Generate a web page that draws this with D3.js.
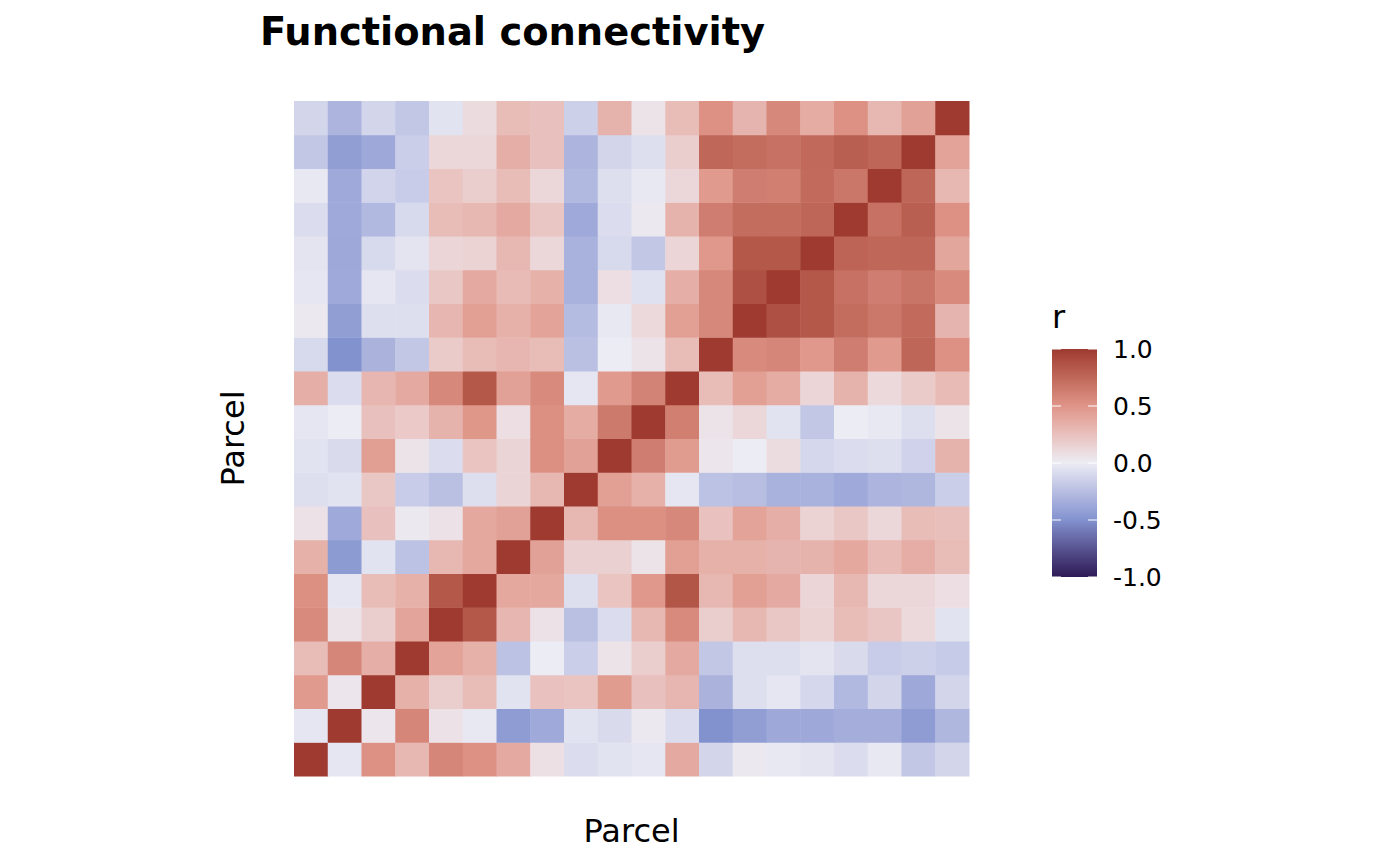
<!DOCTYPE html>
<html>
<head>
<meta charset="utf-8">
<script src="https://cdn.jsdelivr.net/npm/d3@7"></script>
<style>
  body { margin: 0; background: #fff; }
  svg text { font-family: "DejaVu Sans", sans-serif; fill: #000; }
</style>
</head>
<body>
<div id="chart"></div>
<script>
// parcels, 1 .. 20 (parcel 1 is bottom row / left column)
var parcels = d3.range(1, 21);

// correlation matrix, row i = parcel i, column j = parcel j
var r01 = [1, -0.03, 0.52, 0.30, 0.58, 0.52, 0.38, 0.07, -0.08, -0.05, -0.03, 0.38, -0.12, 0.02, -0.02, -0.04, -0.08, -0.02, -0.20, -0.12];
var r02 = [-0.03, 1, 0.04, 0.58, 0.06, -0.02, -0.44, -0.36, -0.05, -0.09, 0.02, -0.08, -0.50, -0.43, -0.37, -0.37, -0.34, -0.34, -0.44, -0.29];
var r03 = [0.47, 0.04, 1, 0.34, 0.17, 0.27, -0.05, 0.24, 0.23, 0.46, 0.25, 0.31, -0.31, -0.07, -0.03, -0.11, -0.28, -0.12, -0.37, -0.12];
var r04 = [0.27, 0.58, 0.35, 1, 0.42, 0.34, -0.23, 0.00, -0.16, 0.05, 0.17, 0.38, -0.20, -0.07, -0.07, -0.04, -0.09, -0.17, -0.15, -0.18];
var r05 = [0.56, 0.05, 0.17, 0.41, 1, 0.84, 0.31, 0.06, -0.24, -0.08, 0.30, 0.56, 0.17, 0.30, 0.21, 0.15, 0.27, 0.22, 0.11, -0.05];
var r06 = [0.53, -0.03, 0.27, 0.34, 0.84, 1, 0.39, 0.39, -0.07, 0.23, 0.48, 0.85, 0.30, 0.44, 0.38, 0.13, 0.30, 0.12, 0.12, 0.08];
var r07 = [0.34, -0.45, -0.05, -0.23, 0.30, 0.39, 1, 0.43, 0.16, 0.16, 0.05, 0.44, 0.34, 0.34, 0.32, 0.33, 0.39, 0.28, 0.36, 0.27];
var r08 = [0.06, -0.36, 0.25, 0.02, 0.06, 0.39, 0.43, 1, 0.30, 0.53, 0.53, 0.57, 0.24, 0.42, 0.35, 0.15, 0.21, 0.12, 0.27, 0.26];
var r09 = [-0.07, -0.05, 0.21, -0.17, -0.24, -0.07, 0.14, 0.30, 1, 0.44, 0.34, -0.03, -0.23, -0.25, -0.32, -0.32, -0.36, -0.30, -0.29, -0.16];
var r10 = [-0.05, -0.09, 0.45, 0.05, -0.08, 0.23, 0.14, 0.53, 0.43, 1, 0.63, 0.46, 0.04, 0.00, 0.09, -0.11, -0.08, -0.07, -0.14, 0.33];
var r11 = [-0.03, 0.00, 0.25, 0.20, 0.33, 0.49, 0.08, 0.53, 0.37, 0.65, 1, 0.62, 0.05, 0.12, -0.05, -0.20, 0.00, -0.02, -0.07, 0.05];
var r12 = [0.35, -0.08, 0.31, 0.38, 0.57, 0.84, 0.43, 0.56, -0.03, 0.47, 0.60, 1, 0.27, 0.44, 0.37, 0.13, 0.33, 0.11, 0.19, 0.28];
var r13 = [-0.10, -0.50, -0.31, -0.20, 0.19, 0.27, 0.31, 0.27, -0.24, 0.00, 0.05, 0.27, 1, 0.56, 0.58, 0.48, 0.63, 0.47, 0.76, 0.52];
var r14 = [0.02, -0.43, -0.07, -0.07, 0.31, 0.44, 0.34, 0.42, -0.26, -0.02, 0.11, 0.44, 0.57, 1, 0.88, 0.84, 0.72, 0.66, 0.73, 0.32];
var r15 = [-0.03, -0.36, -0.03, -0.08, 0.21, 0.38, 0.28, 0.34, -0.32, 0.08, -0.06, 0.35, 0.57, 0.88, 1, 0.84, 0.70, 0.63, 0.68, 0.56];
var r16 = [-0.04, -0.37, -0.10, -0.04, 0.13, 0.15, 0.30, 0.12, -0.32, -0.10, -0.20, 0.13, 0.48, 0.84, 0.84, 1, 0.77, 0.75, 0.76, 0.40];
var r17 = [-0.08, -0.36, -0.28, -0.10, 0.27, 0.30, 0.38, 0.22, -0.36, -0.08, 0.02, 0.33, 0.63, 0.72, 0.72, 0.76, 1, 0.70, 0.80, 0.52];
var r18 = [-0.02, -0.36, -0.13, -0.17, 0.23, 0.17, 0.27, 0.12, -0.28, -0.07, -0.02, 0.12, 0.47, 0.63, 0.62, 0.73, 0.67, 1, 0.76, 0.30];
var r19 = [-0.20, -0.43, -0.37, -0.16, 0.12, 0.12, 0.35, 0.25, -0.30, -0.12, -0.07, 0.17, 0.75, 0.72, 0.70, 0.74, 0.80, 0.76, 1, 0.42];
var r20 = [-0.12, -0.30, -0.12, -0.20, -0.05, 0.10, 0.27, 0.25, -0.15, 0.33, 0.05, 0.27, 0.52, 0.32, 0.57, 0.37, 0.52, 0.30, 0.43, 1];
var matrix = [r01, r02, r03, r04, r05, r06, r07, r08, r09, r10,
              r11, r12, r13, r14, r15, r16, r17, r18, r19, r20];

// legend ticks
var legendTicks = [-1, -0.5, 0, 0.5, 1];

var width = 1400;
var height = 866;

// tile area
var plotLeft = 294, plotTop = 101, plotSize = 675;

var svg = d3.select('#chart')
            .append('svg')
              .attr('width', width)
              .attr('height', height);

// colour scale
var colour = d3.scaleLinear()
               .domain([-1, -0.5, 0, 0.5, 1])
               .range(['#2e1a56', '#8292cf', '#ececf4', '#df9588', '#9e3a2f'])
               .interpolate(d3.interpolateLab)
               .clamp(true);

var xScale = d3.scaleBand()
               .domain(parcels)
               .range([plotLeft, plotLeft + plotSize]);
var yScale = d3.scaleBand()
               .domain(parcels)
               .range([plotTop + plotSize, plotTop]);

// flatten the matrix into cells
var cells = [];
matrix.forEach(function(row, i){
    row.forEach(function(v, j){
        cells.push({row: parcels[i], col: parcels[j], r: v});
    });
});

svg.append('g')
   .selectAll('rect')
   .data(cells)
   .enter()
   .append('rect')
     .attr('x', (d) => xScale(d.col))
     .attr('y', (d) => yScale(d.row))
     .attr('width', xScale.bandwidth() + 0.5)
     .attr('height', yScale.bandwidth() + 0.5)
     .attr('fill', (d) => colour(d.r));

// title
svg.append('text')
   .attr('x', 260)
   .attr('y', 45)
   .style('font-size', '38.4px')
   .style('font-weight', 'bold')
   .text('Functional connectivity');

// x axis title
svg.append('text')
   .attr('x', plotLeft + plotSize / 2)
   .attr('y', 842)
   .attr('text-anchor', 'middle')
   .style('font-size', '32px')
   .text('Parcel');

// y axis title
svg.append('text')
   .attr('transform', 'translate(244,' + (plotTop + plotSize / 2) + ') rotate(-90)')
   .attr('text-anchor', 'middle')
   .style('font-size', '32px')
   .text('Parcel');

// legend
var barX = 1052, barW = 45, barTop = 349, barH = 228;
var legendScale = d3.scaleLinear()
                    .domain([-1, 1])
                    .range([barTop + barH, barTop]);

var grad = svg.append('defs')
              .append('linearGradient')
                .attr('id', 'rgrad')
                .attr('x1', 0).attr('y1', 1)
                .attr('x2', 0).attr('y2', 0);
grad.selectAll('stop')
    .data(d3.range(0, 1.0001, 0.05))
    .enter()
    .append('stop')
      .attr('offset', (d) => d)
      .attr('stop-color', (d) => colour(-1 + 2 * d));

svg.append('rect')
   .attr('x', barX)
   .attr('y', barTop)
   .attr('width', barW)
   .attr('height', barH)
   .attr('fill', 'url(#rgrad)');

var lg = svg.append('g');
legendTicks.forEach(function(t){
    var y = legendScale(t);
    lg.append('line')
      .attr('x1', barX).attr('x2', barX + 9)
      .attr('y1', y).attr('y2', y)
      .attr('stroke', '#fff').attr('stroke-width', 1);
    lg.append('line')
      .attr('x1', barX + barW - 9).attr('x2', barX + barW)
      .attr('y1', y).attr('y2', y)
      .attr('stroke', '#fff').attr('stroke-width', 1);
    lg.append('text')
      .attr('x', 1113)
      .attr('y', y)
      .attr('dy', '0.36em')
      .style('font-size', '25px')
      .text(t.toFixed(1));
});

svg.append('text')
   .attr('x', barX)
   .attr('y', 328)
   .style('font-size', '32px')
   .text('r');
</script>
</body>
</html>
